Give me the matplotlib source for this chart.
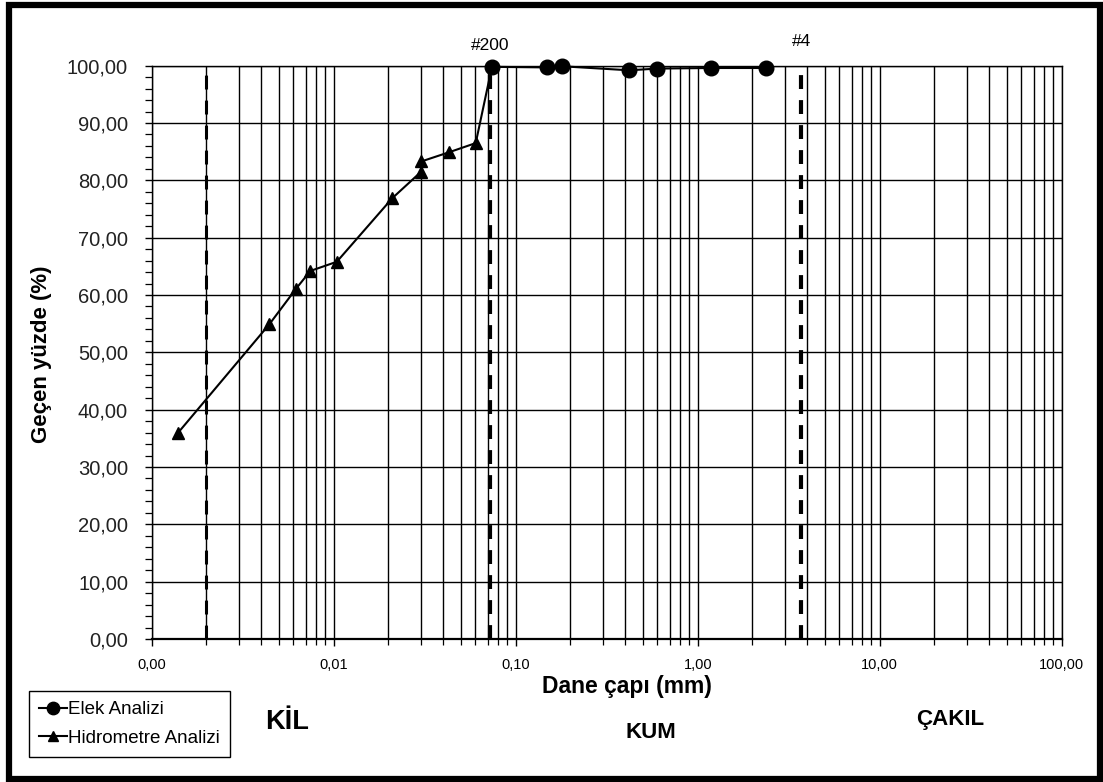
import matplotlib
matplotlib.use("Agg")
import matplotlib.pyplot as plt
import matplotlib.patches as mpatches
from matplotlib.ticker import FixedLocator, NullFormatter, LogLocator

plt.rcParams["font.family"] = ["Liberation Sans", "DejaVu Sans"]

# ── data ────────────────────────────────────────────────────────────────────
# Elek analizi (sieve)
elek_d = [0.074, 0.149, 0.18, 0.42, 0.60, 1.18, 2.36]
elek_p = [99.8, 99.7, 99.9, 99.2, 99.5, 99.6, 99.6]

# Hidrometre analizi
hidro_d = [0.00139, 0.00443, 0.00621, 0.00744, 0.0104, 0.021,
           0.0302, 0.0303, 0.043, 0.0603]
hidro_p = [35.9, 54.9, 61.1, 64.2, 65.8, 76.9, 81.5, 83.3, 84.9, 86.5]

# class boundaries (KİL | KUM | ÇAKIL) and sieve names
boundary_d = [0.002, 0.072, 3.7]
sieve_names = ["#200", "#4"]

x_ticks = [0.001, 0.01, 0.1, 1, 10, 100]
x_ticklabels = ["0,00", "0,01", "0,10", "1,00", "10,00", "100,00"]
y_ticks = list(range(0, 101, 10))
y_ticklabels = [f"{v},00" for v in y_ticks]

zone_labels = ["KİL", "KUM", "ÇAKIL"]

W, H = 1103, 782
fig = plt.figure(figsize=(W / 100, H / 100), dpi=100)
ax = fig.add_axes([151.7 / W, 1 - 639 / H, 910 / W, 573.3 / H])

# grid
ax.set_xscale("log")
ax.set_xlim(0.001, 100)
ax.set_ylim(0, 100)
ax.xaxis.set_major_locator(FixedLocator(x_ticks))
ax.xaxis.set_minor_locator(LogLocator(base=10, subs=range(2, 10), numticks=20))
ax.xaxis.set_minor_formatter(NullFormatter())
ax.set_xticklabels(x_ticklabels)
ax.set_yticks(y_ticks)
ax.set_yticklabels(y_ticklabels)
ax.set_yticks(range(0, 101, 2), minor=True)

ax.grid(True, which="both", axis="x", color="black", lw=1.0)
ax.grid(True, which="major", axis="y", color="black", lw=1.0)
ax.set_axisbelow(True)

ax.tick_params(axis="x", which="major", direction="out", length=5, width=1,
               labelsize=10.5, pad=9)
ax.tick_params(axis="x", which="minor", direction="out", length=4, width=0.9)
ax.tick_params(axis="y", which="major", direction="out", length=5, width=1,
               labelsize=14.5, pad=12, labelcolor="#222222")
ax.tick_params(axis="y", which="minor", direction="out", length=5, width=0.9)
for s in ax.spines.values():
    s.set_color("black")
    s.set_linewidth(1)
ax.spines["bottom"].set_linewidth(1.6)

# boundary lines
for i, d in enumerate(boundary_d):
    lw = 2.2 if i == 0 else 3.0
    ax.axvline(d, color="black", lw=lw, linestyle=(0, (10 / lw, 8 / lw)), zorder=3)

# series
ax.plot(hidro_d, hidro_p, color="black", lw=1.5, marker="^", markersize=8.5,
        label="Hidrometre Analizi", zorder=4, clip_on=False)
ax.plot([hidro_d[-1], elek_d[0]], [hidro_p[-1], elek_p[0]], color="black",
        lw=1.5, zorder=4, clip_on=False)
ax.plot(elek_d, elek_p, color="black", lw=1.5, marker="o", markersize=10.5,
        label="Elek Analizi", zorder=5, clip_on=False)

# sieve names above boundaries
trans = matplotlib.transforms.blended_transform_factory(ax.transData, ax.transAxes)
ax.text(boundary_d[1], 1.036, sieve_names[0], transform=trans, ha="center",
        va="center", fontsize=12.5)
ax.text(boundary_d[2], 1.043, sieve_names[1], transform=trans, ha="center",
        va="center", fontsize=12.5)

ax.set_xlabel("Dane çapı (mm)", fontsize=16.5, fontweight="bold")
ax.xaxis.set_label_coords((627 - 151.7) / 910, (639 - 686) / 573.3)
ax.xaxis.label.set_va("center")
ax.set_ylabel("Geçen yüzde (%)", fontsize=16, fontweight="bold")
ax.yaxis.set_label_coords((42 - 151.7) / 910, (639 - 354) / 573.3)
ax.yaxis.label.set_va("center")

# zone labels
fig.text(287 / W, 1 - 722 / H, zone_labels[0], fontsize=19.5, fontweight="bold",
         ha="center", va="center")
fig.text(651 / W, 1 - 732 / H, zone_labels[1], fontsize=16, fontweight="bold",
         ha="center", va="center")
fig.text(950 / W, 1 - 719 / H, zone_labels[2], fontsize=16, fontweight="bold",
         ha="center", va="center")

# legend
h, l = ax.get_legend_handles_labels()
leg = fig.legend(h[::-1], l[::-1], loc="lower left",
                 bbox_to_anchor=(29 / W, 1 - 757 / H), borderaxespad=0,
                 fontsize=13.5, handlelength=1.5, handletextpad=0.05,
                 borderpad=0.55, labelspacing=0.6, fancybox=False,
                 edgecolor="black", framealpha=1, markerscale=0.85)
leg.get_frame().set_linewidth(1)

# outer frame
fig.add_artist(mpatches.Rectangle((8.5 / W, 3.5 / H), (1100 - 8.5) / W,
                                  (778.5 - 4.5) / H, transform=fig.transFigure,
                                  fill=False, edgecolor="black", lw=4.5))

fig.savefig("out.png", dpi=100)
